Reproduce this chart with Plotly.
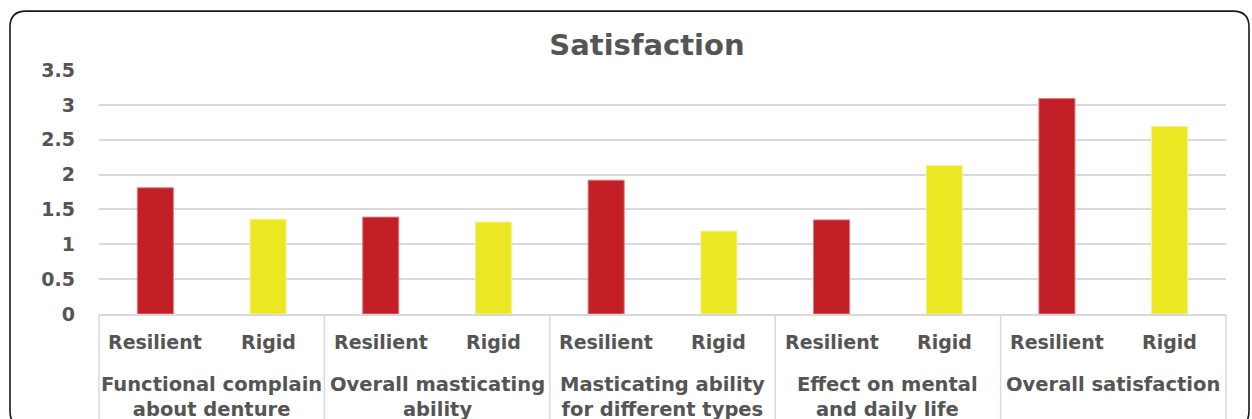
import plotly.graph_objects as go

groups = ["Functional complain<br>about denture", "Overall masticating<br>ability",
          "Masticating ability<br>for different types", "Effect on mental<br>and daily life",
          "Overall satisfaction"]
types = ["Resilient", "Rigid"]
resilient = [1.81, 1.39, 1.92, 1.35, 3.09]
rigid = [1.36, 1.32, 1.19, 2.13, 2.69]
y_ticks = [0, 0.5, 1, 1.5, 2, 2.5, 3, 3.5]
y_ticklabels = ["0", "0.5", "1", "1.5", "2", "2.5", "3", "3.5"]

RED = "#C21F26"
YEL = "#EBE823"
TXT = "#555555"
GRID = "#D9D9D9"
FONT = "DejaVu Sans"

W, H = 1252, 419
L, R, T, B = 99, 26, 70, 104.5
pw, ph = W - L - R, H - T - B

fig = go.Figure()
fig.add_trace(go.Bar(x=[groups, [types[0]] * len(groups)], y=resilient, name=types[0],
                     marker=dict(color=RED, line=dict(color="#E07C80", width=1)), width=0.32))
fig.add_trace(go.Bar(x=[groups, [types[1]] * len(groups)], y=rigid, name=types[1],
                     marker=dict(color=YEL, line=dict(color="#F3F19A", width=1)), width=0.32))


def px2paper(xp, yp):
    return (xp - L) / pw, (H - B - yp) / ph


def py(yp):
    return (H - B - yp) / ph


# rounded outer frame
x0, y0, x1, y1, r = 10, 11, 1249, 428, 16


def P(xp, yp):
    a, b = px2paper(xp, yp)
    return f"{a:.5f},{b:.5f}"


path = (f"M {P(x0 + r, y0)} L {P(x1 - r, y0)} Q {P(x1, y0)} {P(x1, y0 + r)} "
        f"L {P(x1, y1 - r)} Q {P(x1, y1)} {P(x1 - r, y1)} L {P(x0 + r, y1)} "
        f"Q {P(x0, y1)} {P(x0, y1 - r)} L {P(x0, y0 + r)} Q {P(x0, y0)} {P(x0 + r, y0)} Z")
fig.add_shape(type="path", path=path, xref="paper", yref="paper",
              line=dict(color="#1a1a1a", width=1.6), layer="above")

n = len(groups)
# category table dividers
for i in range(n + 1):
    fig.add_shape(type="line", xref="paper", yref="paper", x0=i / n, x1=i / n,
                  y0=0, y1=py(440), line=dict(color=GRID, width=1.5))

# category labels
inner_font = dict(family=FONT, size=19, color=TXT, weight="bold")
outer_font = dict(family=FONT, size=19.5, color=TXT, weight="bold")
for i, g in enumerate(groups):
    for j, t in enumerate(types):
        fig.add_annotation(text=t, xref="paper", yref="paper", x=(i + 0.25 + 0.5 * j) / n,
                           y=py(343), xanchor="center", yanchor="middle", showarrow=False,
                           font=inner_font)
    fig.add_annotation(text=g, xref="paper", yref="paper", x=(i + 0.5) / n,
                       y=py(372), xanchor="center", yanchor="top", showarrow=False,
                       font=outer_font)

fig.update_layout(
    width=W, height=H,
    margin=dict(l=L, r=R, t=T, b=B, autoexpand=False),
    paper_bgcolor="white", plot_bgcolor="white",
    barmode="overlay", showlegend=False,
    font=dict(family=FONT, color=TXT),
    title=dict(text="<b>Satisfaction</b>", x=647 / W, xanchor="center",
               y=1 - 45 / H, yanchor="middle", font=dict(size=29, color=TXT, family=FONT)),
    xaxis=dict(type="multicategory", showline=True, linecolor=GRID, linewidth=1.5,
               showdividers=False, showticklabels=False, showgrid=False, ticks=""),
    yaxis=dict(range=[0, 3.5], tickvals=y_ticks, ticktext=y_ticklabels,
               showgrid=True, gridcolor=GRID, gridwidth=1.5, zeroline=False,
               tickfont=dict(size=19, color=TXT, family=FONT, weight="bold"),
               ticklabelstandoff=23, showline=False),
)

fig.write_html("out.html", config={"displayModeBar": False},
               post_script="document.body.style.margin='0';document.body.style.overflow='hidden';")
